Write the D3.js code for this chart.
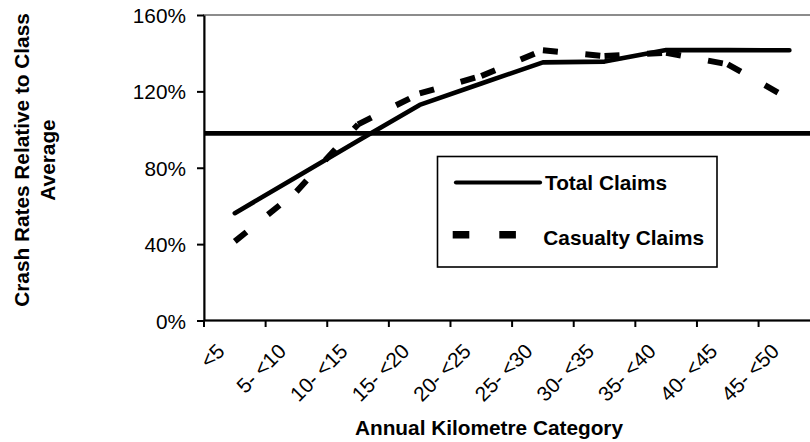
<!DOCTYPE html>
<html>
<head>
<meta charset="utf-8">
<script src="https://cdn.jsdelivr.net/npm/d3@7"></script>
<style>
  html, body { margin: 0; padding: 0; background: #fff; }
  svg { display: block; font-family: "Liberation Sans", Arial, sans-serif; }
</style>
</head>
<body>
<svg id="chart" width="810" height="442"></svg>
<script>
// ---- data ----
const categories = ["<5", "5- <10", "10- <15", "15- <20", "20- <25", "25- <30", "30- <35", "35- <40", "40- <45", "45- <50"];
const totalClaims = [0.562, 0.751, 0.941, 1.129, 1.241, 1.352, 1.356, 1.417, 1.416, 1.415];
const casualtyClaims = [0.414, 0.675, 1.027, 1.189, 1.281, 1.415, 1.385, 1.402, 1.342, 1.160];
const classAverage = 0.98;
const yTicks = [0, 0.4, 0.8, 1.2, 1.6];
const seriesNames = ["Total Claims", "Casualty Claims"];
const xTitle = "Annual Kilometre Category";
const yTitle = ["Crash Rates Relative to Class", "Average"];

// ---- layout ----
const svg = d3.select("#chart");
const plot = { left: 204, top: 15, bottom: 320.5, right: 820.2 };
const FS = 20.8;

const x = d3.scaleBand().domain(categories).range([plot.left, plot.right]).padding(0);
const y = d3.scaleLinear().domain([0, 1.6]).range([plot.bottom, plot.top]);
const cx = d => x(d) + x.bandwidth() / 2;

// plot area border (gray)
svg.append("rect")
  .attr("x", plot.left).attr("y", plot.top)
  .attr("width", plot.right - plot.left).attr("height", plot.bottom - plot.top)
  .attr("fill", "none").attr("stroke", "#8c8c8c").attr("stroke-width", 2);

// y axis
const yAxis = d3.axisLeft(y).tickValues(yTicks).tickFormat(d3.format(".0%"))
  .tickSize(7).tickSizeOuter(0).tickPadding(11);
const gy = svg.append("g").attr("transform", `translate(${plot.left},0)`).call(yAxis);
gy.select(".domain").attr("stroke", "#000").attr("stroke-width", 2);
gy.selectAll(".tick line").attr("stroke", "#000").attr("stroke-width", 2);
gy.selectAll(".tick text").attr("font-size", FS).attr("fill", "#000")
  .attr("font-family", "Liberation Sans, Arial, sans-serif").attr("dy", "0.36em");

// x axis line
svg.append("line")
  .attr("x1", plot.left).attr("x2", plot.right)
  .attr("y1", plot.bottom).attr("y2", plot.bottom)
  .attr("stroke", "#000").attr("stroke-width", 2);

// x ticks at category boundaries
const boundaries = categories.map(c => x(c)).concat([x(categories[categories.length - 1]) + x.bandwidth()]);
svg.append("g").selectAll("line").data(boundaries).join("line")
  .attr("x1", d => d).attr("x2", d => d)
  .attr("y1", plot.bottom).attr("y2", plot.bottom + 6.5)
  .attr("stroke", "#000").attr("stroke-width", 2);

// x tick labels, rotated
svg.append("g").selectAll("text").data(categories).join("text")
  .attr("transform", d => `translate(${cx(d) - 9},${plot.bottom + 32}) rotate(-45)`)
  .attr("text-anchor", "end")
  .attr("font-size", FS)
  .attr("fill", "#000")
  .text(d => d);

// axis titles
svg.append("text")
  .attr("x", 489).attr("y", 435)
  .attr("text-anchor", "middle").attr("font-weight", "bold").attr("font-size", FS)
  .text(xTitle);

const yt = svg.append("text")
  .attr("transform", "translate(28.5,160) rotate(-90)")
  .attr("text-anchor", "middle").attr("font-weight", "bold").attr("font-size", FS);
yt.selectAll("tspan").data(yTitle).join("tspan")
  .attr("x", 0).attr("dy", (d, i) => i === 0 ? 0 : 26)
  .text(d => d);

// class-average reference line
svg.append("line")
  .attr("x1", plot.left).attr("x2", plot.right)
  .attr("y1", y(classAverage)).attr("y2", y(classAverage))
  .attr("stroke", "#000").attr("stroke-width", 4.6);

// total claims (solid)
const line = d3.line().x(d => cx(d[0])).y(d => y(d[1]));
svg.append("path")
  .datum(categories.map((c, i) => [c, totalClaims[i]]))
  .attr("d", line)
  .attr("fill", "none").attr("stroke", "#000").attr("stroke-width", 4.6)
  .attr("stroke-linecap", "round").attr("stroke-linejoin", "round");

// casualty claims (dashed, each segment restarts the dash pattern)
const casPts = categories.map((c, i) => [c, casualtyClaims[i]]);
const segs = d3.pairs(casPts);
svg.append("g").selectAll("path").data(segs).join("path")
  .attr("d", d => line(d))
  .attr("fill", "none").attr("stroke", "#000").attr("stroke-width", 6)
  .attr("stroke-dasharray", "15,27.6").attr("stroke-linecap", "butt");

// legend
const lg = svg.append("g");
lg.append("rect").attr("x", 437.5).attr("y", 156.5).attr("width", 279.5).attr("height", 110.5)
  .attr("fill", "#fff").attr("stroke", "#000").attr("stroke-width", 1.6);
lg.append("line").attr("x1", 456).attr("x2", 540).attr("y1", 182.5).attr("y2", 182.5)
  .attr("stroke", "#000").attr("stroke-width", 4.2).attr("stroke-linecap", "round");
lg.append("text").attr("x", 545).attr("y", 190).attr("font-weight", "bold").attr("font-size", FS)
  .text(seriesNames[0]);
lg.append("line").attr("x1", 452.7).attr("x2", 516).attr("y1", 234.7).attr("y2", 234.7)
  .attr("stroke", "#000").attr("stroke-width", 7.5).attr("stroke-dasharray", "16.6,30");
lg.append("text").attr("x", 543.3).attr("y", 245).attr("font-weight", "bold").attr("font-size", FS)
  .text(seriesNames[1]);
</script>
</body>
</html>
